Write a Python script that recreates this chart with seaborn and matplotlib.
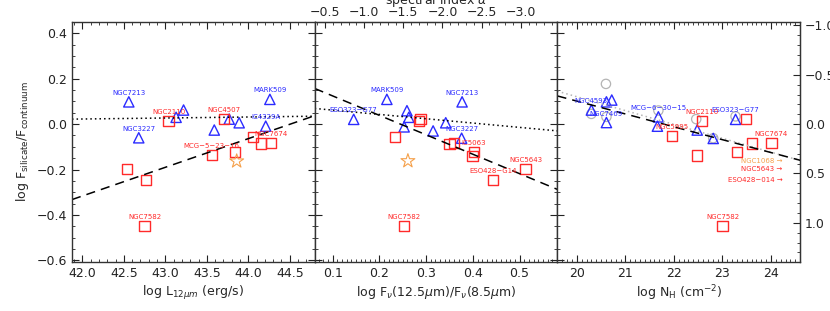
#%% Packages
import numpy as np
import pandas as pd
import matplotlib
matplotlib.use('Agg')
import matplotlib.pyplot as plt
from matplotlib.ticker import MultipleLocator
import seaborn as sns

sns.set_style('ticks')
plt.rcParams['font.family'] = ['DejaVu Sans']
plt.rcParams['mathtext.fontset'] = 'dejavusans'

#%% Colours
BLUE = '#2b2bff'
RED = '#ff2a2a'
ORANGE = '#f5a04a'
GREY = '#b4b4b4'

#%% Data - panel 1: log L12um
p1_tri_name = ['NGC7213', 'NGC3227', 'MARK509', 'IC4329A', '', '', '', '', '']
p1_tri_x = [42.56, 42.68, 44.26, 44.21, 43.13, 43.22, 43.77, 43.59, 43.89]
p1_tri_y = [0.098, -0.060, 0.109, -0.009, 0.030, 0.062, 0.022, -0.026, 0.006]
p1_sq_name = ['NGC2110', 'NGC4507', 'NGC7674', 'MCG−5−23−16', 'NGC7582', '', '', '', '', '']
p1_sq_x = [43.04, 43.71, 44.27, 43.56, 42.75, 44.06, 44.15, 43.84, 42.54, 42.77]
p1_sq_y = [0.013, 0.022, -0.082, -0.137, -0.449, -0.056, -0.085, -0.122, -0.196, -0.247]
p1_star_x = [43.86]
p1_star_y = [-0.163]
# fitted lines (intercept at x0, slope)
p1_dash = (41.875, -0.332, 0.1262)
p1_dot = (41.875, 0.022, 0.0044)

#%% Data - panel 2: log Fnu(12.5)/Fnu(8.5)
p2_tri_name = ['MARK509', 'ESO323−G77', 'NGC7213', 'NGC3227', '', '', '', '', '']
p2_tri_x = [0.216, 0.145, 0.377, 0.376, 0.259, 0.263, 0.253, 0.315, 0.342]
p2_tri_y = [0.109, 0.021, 0.098, -0.062, 0.059, 0.030, -0.012, -0.030, 0.006]
p2_sq_name = ['IC5063', 'NGC5643', 'ESO428−G14', 'NGC7582', '', '', '', '', '', '']
p2_sq_x = [0.402, 0.513, 0.443, 0.252, 0.285, 0.288, 0.233, 0.350, 0.359, 0.399]
p2_sq_y = [-0.122, -0.197, -0.247, -0.449, 0.015, 0.023, -0.056, -0.088, -0.082, -0.141]
p2_star_x = [0.261]
p2_star_y = [-0.162]
p2_dash = (0.0615, 0.157, -0.855)
p2_dot = (0.0615, 0.069, -0.19)
alpha_ticks = [-0.5, -1.0, -1.5, -2.0, -2.5, -3.0]

#%% Data - panel 3: log NH
p3_tri_name = ['NGC4593', 'NGC7469', 'MCG−6−30−15', 'ESO323−G77', '', '', '', '', '']
p3_tri_x = [20.30, 20.61, 21.68, 23.27, 20.61, 20.72, 21.66, 22.48, 22.81]
p3_tri_y = [0.062, 0.007, 0.032, 0.021, 0.098, 0.106, -0.009, -0.026, -0.063]
p3_sq_name = ['NGC5995', 'NGC2110', 'NGC7674', 'NGC7582', '', '', '', '']
p3_sq_x = [21.96, 22.58, 24.01, 23.00, 23.48, 23.61, 23.30, 22.48]
p3_sq_y = [-0.053, 0.015, -0.082, -0.449, 0.024, -0.085, -0.122, -0.138]
p3_circ_x = [20.60, 20.30, 20.61, 21.68, 22.46, 22.81, 23.27]
p3_circ_y = [0.177, 0.045, 0.032, 0.060, 0.022, -0.062, 0.034]
# Compton thick objects, only lower limits on NH
p3_lim_name = ['NGC1068', 'NGC5643', 'ESO428−014']
p3_lim_y = [-0.163, -0.197, -0.247]
p3_lim_col = [ORANGE, RED, RED]
p3_lim_x = 24.24
p3_dash = (19.6, 0.124, -0.0566)
p3_dot = (19.6, 0.145, -0.061)

tau_ticks = [-1.0, -0.5, 0.0, 0.5, 1.0]

#%% Figure
fig, axes = plt.subplots(1, 3, sharey=True, figsize=(8.3, 3.11), dpi=100)
fig.subplots_adjust(left=0.0867, right=0.964, top=0.929, bottom=0.158, wspace=0)

xlims = [(41.875, 44.8), (0.0615, 0.581), (19.6, 24.6)]
xminor = [0.1, 0.01, 0.1]
xmajor = [0.5, 0.1, 1.0]
xlabels = [r'log L$_{12\mu m}$ (erg/s)',
           r'log F$_{\nu}$(12.5$\mu$m)/F$_{\nu}$(8.5$\mu$m)',
           r'log N$_{\rm H}$ (cm$^{-2}$)']

panels = [
    (p1_tri_name, p1_tri_x, p1_tri_y, p1_sq_name, p1_sq_x, p1_sq_y, p1_dash, p1_dot),
    (p2_tri_name, p2_tri_x, p2_tri_y, p2_sq_name, p2_sq_x, p2_sq_y, p2_dash, p2_dot),
    (p3_tri_name, p3_tri_x, p3_tri_y, p3_sq_name, p3_sq_x, p3_sq_y, p3_dash, p3_dot),
]

for i, (ax, pan) in enumerate(zip(axes, panels)):
    tri_name, tri_x, tri_y, sq_name, sq_x, sq_y, dash, dot = pan
    tri = pd.DataFrame({'x': tri_x, 'y': tri_y, 'name': tri_name})
    sq = pd.DataFrame({'x': sq_x, 'y': sq_y, 'name': sq_name})

    # fit lines
    xx = np.array(xlims[i])
    dot_col = GREY if i == 2 else 'black'
    sns.lineplot(x=xx, y=dot[1] + dot[2] * (xx - dot[0]), ax=ax, color=dot_col,
                 linestyle=(0, (1, 2)), linewidth=1.1)
    sns.lineplot(x=xx, y=dash[1] + dash[2] * (xx - dash[0]), ax=ax, color='black',
                 linestyle=(0, (6, 4)), linewidth=1.1)

    if i == 2:
        sns.scatterplot(x=p3_circ_x, y=p3_circ_y, ax=ax, marker='o', s=45,
                        facecolor='none', edgecolor=GREY, linewidth=0.9)

    sns.scatterplot(data=tri, x='x', y='y', ax=ax, marker='^', s=55,
                    facecolor='none', edgecolor=BLUE, linewidth=1.0)
    sns.scatterplot(data=sq, x='x', y='y', ax=ax, marker='s', s=55,
                    facecolor='none', edgecolor=RED, linewidth=1.0)

    for df, col in [(tri, BLUE), (sq, RED)]:
        for _, r in df[df['name'] != ''].iterrows():
            ax.annotate(r['name'], (r['x'], r['y']), xytext=(0, 6.5),
                        textcoords='offset points', ha='center', va='center',
                        fontsize=5, color=col)

    ax.set_xlim(*xlims[i])
    ax.xaxis.set_major_locator(MultipleLocator(xmajor[i]))
    ax.xaxis.set_minor_locator(MultipleLocator(xminor[i]))
    ax.set_xlabel(xlabels[i], fontsize=9, labelpad=3)
    ax.set_ylabel('')

# stars (NGC1068)
sns.scatterplot(x=p1_star_x, y=p1_star_y, ax=axes[0], marker='*', s=110,
                facecolor='none', edgecolor=ORANGE, linewidth=0.8)
sns.scatterplot(x=p2_star_x, y=p2_star_y, ax=axes[1], marker='*', s=110,
                facecolor='none', edgecolor=ORANGE, linewidth=0.8)

# lower limits in NH
for name, y, col in zip(p3_lim_name, p3_lim_y, p3_lim_col):
    axes[2].text(p3_lim_x, y, name + ' →', ha='right', va='center',
                 fontsize=5, color=col)

#%% Axes styling
axes[0].set_ylim(-0.606, 0.449)
axes[0].yaxis.set_major_locator(MultipleLocator(0.2))
axes[0].yaxis.set_minor_locator(MultipleLocator(0.05))
axes[0].set_ylabel(r'log F$_{\rm silicate}$/F$_{\rm continuum}$', fontsize=9, labelpad=4)

for i, ax in enumerate(axes):
    ax.tick_params(which='both', direction='in', top=(i != 1), right=(i != 2),
                   labelsize=9, colors='#222222')
    ax.tick_params(which='major', length=5, width=0.8)
    ax.tick_params(which='minor', length=2.5, width=0.6)
    for sp in ax.spines.values():
        sp.set_linewidth(1.0)
        sp.set_color('#333333')

# spectral index on top of the middle panel
k_alpha = np.log10(12.5 / 8.5)
top = axes[1].secondary_xaxis('top', functions=(lambda x: -x / k_alpha,
                                                lambda a: -a * k_alpha))
top.set_xticks(alpha_ticks)
top.xaxis.set_minor_locator(MultipleLocator(0.1))
top.tick_params(which='both', direction='in', labelsize=9, pad=2)
top.tick_params(which='major', length=4, width=0.8)
top.tick_params(which='minor', length=2.5, width=0.6)
top.set_xlabel(r'spectral index $\alpha$', fontsize=9, labelpad=2)

# optical depth on the right
right = axes[2].secondary_yaxis('right', functions=(lambda y: -np.log(10) * y,
                                                    lambda t: -t / np.log(10)))
right.set_yticks(tau_ticks)
right.yaxis.set_minor_locator(MultipleLocator(0.1))
right.tick_params(which='both', direction='in', labelsize=9)
right.tick_params(which='major', length=5, width=0.8)
right.tick_params(which='minor', length=2.5, width=0.6)

fig.savefig('out.png', dpi=100)
